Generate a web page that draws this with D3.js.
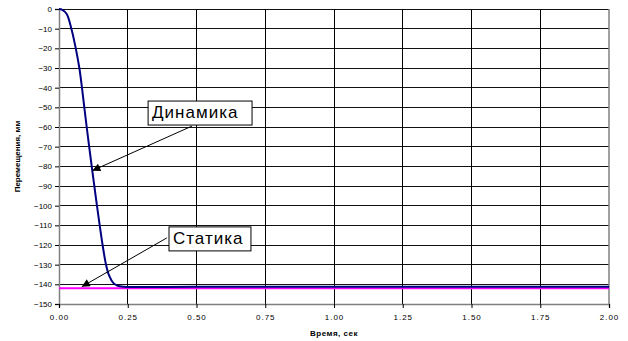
<!DOCTYPE html>
<html>
<head>
<meta charset="utf-8">
<script src="https://cdn.jsdelivr.net/npm/d3@7"></script>
<style>
  body { margin: 0; background: #fff; }
  text { font-family: "Liberation Sans", Arial, sans-serif; }
</style>
</head>
<body>
<div id="chart"></div>
<script>
// time, s / displacement, mm
const dynTime = [0, 0.012, 0.028, 0.045, 0.061, 0.074, 0.0835, 0.092, 0.1007, 0.1097, 0.119,
  0.1285, 0.138, 0.148, 0.1585, 0.171, 0.182, 0.198, 0.213, 0.235, 0.5, 1.0, 1.5, 2.0];
const dynValue = [0, -0.4, -2.5, -10, -20, -30, -40, -50, -60, -70, -80,
  -90, -100, -110, -120, -130, -135.5, -139.4, -140.7, -141.2, -141.2, -141.2, -141.2, -141.2];
const staticValue = -142;
const xTicks = [0, 0.25, 0.5, 0.75, 1.0, 1.25, 1.5, 1.75, 2.0];
const yTicks = d3.range(0, -151, -10);

// annotations in data units: box corners, arrow start, arrow tip
const notes = [
  { label: 'Динамика', box: [0.324, -46.8, 0.702, -59.0], from: [0.484, -59.5], to: [0.121, -82.2] },
  { label: 'Статика', box: [0.40, -110.8, 0.698, -123.0], from: [0.392, -116.4], to: [0.083, -141.2] }
];

const width = 628, height = 341;
const margin = { left: 59, right: 19, top: 9, bottom: 37 };

const x = d3.scaleLinear().domain([0, 2]).range([margin.left, width - margin.right]);
const y = d3.scaleLinear().domain([0, -150]).range([margin.top, height - margin.bottom]);

const svg = d3.select('#chart').append('svg')
  .attr('width', width)
  .attr('height', height);

svg.append('defs').append('marker')
  .attr('id', 'arrow')
  .attr('viewBox', '0 0 10 10')
  .attr('refX', 10).attr('refY', 5)
  .attr('markerWidth', 10).attr('markerHeight', 8)
  .attr('markerUnits', 'userSpaceOnUse')
  .attr('orient', 'auto')
  .append('path')
  .attr('d', 'M0,0 L10,5 L0,10 z')
  .attr('fill', '#000');

// grid
svg.append('g')
  .selectAll('line')
  .data(yTicks)
  .enter()
  .append('line')
  .attr('x1', x(0)).attr('x2', x(2))
  .attr('y1', d => y(d)).attr('y2', d => y(d))
  .attr('stroke', '#111')
  .attr('stroke-width', 1)
  .attr('shape-rendering', 'crispEdges');

svg.append('g')
  .selectAll('line')
  .data(xTicks.slice(1, -1))
  .enter()
  .append('line')
  .attr('x1', d => x(d)).attr('x2', d => x(d))
  .attr('y1', y(0)).attr('y2', y(-150))
  .attr('stroke', '#000')
  .attr('stroke-width', 1)
  .attr('shape-rendering', 'crispEdges');

// right border
svg.append('line')
  .attr('x1', x(2)).attr('x2', x(2))
  .attr('y1', y(0)).attr('y2', y(-150))
  .attr('stroke', '#808080')
  .attr('stroke-width', 1.5);

// axes
const leftAxis = d3.axisLeft(y)
  .tickValues(yTicks)
  .tickSize(4)
  .tickPadding(3)
  .tickFormat(d3.format('d'));
const bottomAxis = d3.axisBottom(x)
  .tickValues(xTicks)
  .tickSize(4)
  .tickPadding(6)
  .tickFormat(d3.format('.2f'));

const gy = svg.append('g')
  .attr('transform', `translate(${margin.left}, 0)`)
  .call(leftAxis);
const gx = svg.append('g')
  .attr('transform', `translate(0, ${height - margin.bottom})`)
  .call(bottomAxis);

[gx, gy].forEach(g => {
  g.attr('font-family', null);
  g.select('.domain').attr('stroke', '#808080').attr('stroke-width', 1.5);
  g.selectAll('.tick line').attr('stroke', '#000');
  g.selectAll('.tick text')
    .attr('fill', '#000')
    .style('font-family', '"Liberation Sans", Arial, sans-serif')
    .style('font-size', '8px');
});
gx.selectAll('.tick text').style('letter-spacing', '1px');

// series
svg.append('line')
  .attr('x1', x(0)).attr('x2', x(2))
  .attr('y1', y(staticValue)).attr('y2', y(staticValue))
  .attr('stroke', '#ff00ff')
  .attr('stroke-width', 2);

const line = d3.line()
  .x((d, i) => x(dynTime[i]))
  .y(d => y(d))
  .curve(d3.curveCatmullRom.alpha(0.5));

svg.append('path')
  .datum(dynValue)
  .attr('d', line)
  .attr('fill', 'none')
  .attr('stroke', '#000080')
  .attr('stroke-width', 2);

// annotations
notes.forEach(n => {
  svg.append('line')
    .attr('x1', x(n.from[0])).attr('y1', y(n.from[1]))
    .attr('x2', x(n.to[0])).attr('y2', y(n.to[1]))
    .attr('stroke', '#000')
    .attr('stroke-width', 1)
    .attr('marker-end', 'url(#arrow)');
  const bx = x(n.box[0]), by = y(n.box[1]);
  const bw = x(n.box[2]) - bx, bh = y(n.box[3]) - by;
  svg.append('rect')
    .attr('x', bx).attr('y', by)
    .attr('width', bw).attr('height', bh)
    .attr('fill', '#fff')
    .attr('stroke', '#000')
    .attr('stroke-width', 1);
  svg.append('text')
    .attr('x', bx + 4)
    .attr('y', by + bh - 7)
    .style('font-size', '17px')
    .style('letter-spacing', '1px')
    .text(n.label);
});

// axis titles
svg.append('text')
  .attr('x', x(1))
  .attr('y', 336)
  .attr('text-anchor', 'middle')
  .style('font-size', '8px')
  .style('font-weight', 'bold')
  .style('letter-spacing', '0.5px')
  .text('Время, сек');

svg.append('text')
  .attr('transform', `translate(20, ${y(-75)}) rotate(-90)`)
  .attr('text-anchor', 'middle')
  .style('font-size', '8px')
  .style('font-weight', 'bold')
  .text('Перемещения, мм');
</script>
</body>
</html>
